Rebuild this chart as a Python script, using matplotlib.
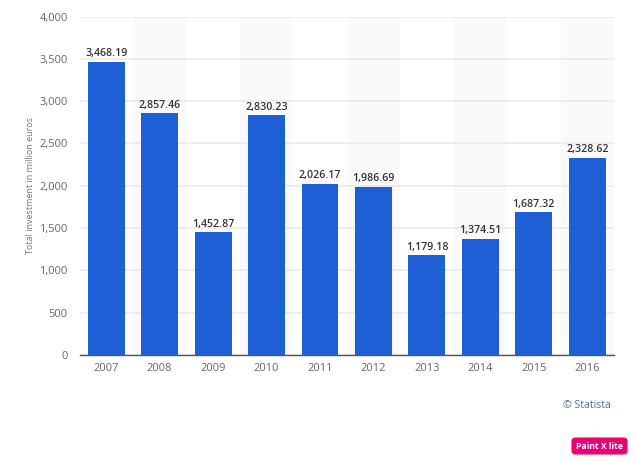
import matplotlib
matplotlib.use("Agg")
import matplotlib.pyplot as plt
from matplotlib.patches import FancyBboxPatch

years = ["2007", "2008", "2009", "2010", "2011", "2012", "2013", "2014", "2015", "2016"]
values = [3468.19, 2857.46, 1452.87, 2830.23, 2026.17, 1986.69, 1179.18, 1374.51, 1687.32, 2328.62]
yticks = [0, 500, 1000, 1500, 2000, 2500, 3000, 3500, 4000]
ylabel = "Total investment in million euros"
credit = "© Statista"
badge = "Paint X lite"

W, H = 635, 461
plt.rcParams["font.family"] = ["Open Sans", "DejaVu Sans"]
fig = plt.figure(figsize=(W / 100, H / 100), dpi=100, facecolor="white")
L, R, T, B = 79.5, 614, 16.5, 355
ax = fig.add_axes([L / W, 1 - B / H, (R - L) / W, (B - T) / H])
ax.set_xlim(-0.5, len(years) - 0.5)
ax.set_ylim(0, 4000)

for i in range(1, len(years), 2):
    ax.axvspan(i - 0.5, i + 0.5, color="#fafafb", lw=0, zorder=0)
ax.set_axisbelow(True)
ax.yaxis.grid(True, color="#e9e9eb", lw=1.1)
ax.xaxis.grid(False)

pos = list(range(len(years)))
ax.bar(pos, values, width=0.69, color="#1f5fd6", edgecolor="none", zorder=3)
for p, v in zip(pos, values):
    ax.annotate(f"{v:,.2f}", (p, v), xytext=(0, 1.8), textcoords="offset points",
                ha="center", va="bottom", fontsize=7.7, color="#333333",
                fontweight="semibold", zorder=4)

ax.set_xticks(pos, years)
ax.set_yticks(yticks, [f"{t:,}" for t in yticks])
ax.tick_params(axis="both", length=0, labelsize=8, labelcolor="#666666")
ax.tick_params(axis="x", pad=5.5)
ax.tick_params(axis="y", pad=8.5)
for s in ["top", "right", "left"]:
    ax.spines[s].set_visible(False)
ax.spines["bottom"].set_color("#555555")
ax.spines["bottom"].set_linewidth(1.0)

fig.text(30.5 / W, 1 - 185.5 / H, ylabel, rotation=90, ha="center", va="center",
         fontsize=6.5, color="#777777")
fig.text(611 / W, 1 - 405 / H, credit, ha="right", va="center", fontsize=7.6, color="#4c6aa8")

bx0, by0, bx1, by1 = 572, 438, 627, 454
fig.add_artist(FancyBboxPatch((bx0 / W, 1 - by1 / H), (bx1 - bx0) / W, (by1 - by0) / H,
                              boxstyle="round,pad=0,rounding_size=0.006",
                              transform=fig.transFigure, fc="#e8007a", ec="#f0104a", lw=0.8))
fig.text((bx0 + bx1) / 2 / W, 1 - (by0 + by1) / 2 / H, badge, ha="center", va="center",
         fontsize=6.2, color="white", fontweight="bold")
fig.savefig("out.png", dpi=100)
